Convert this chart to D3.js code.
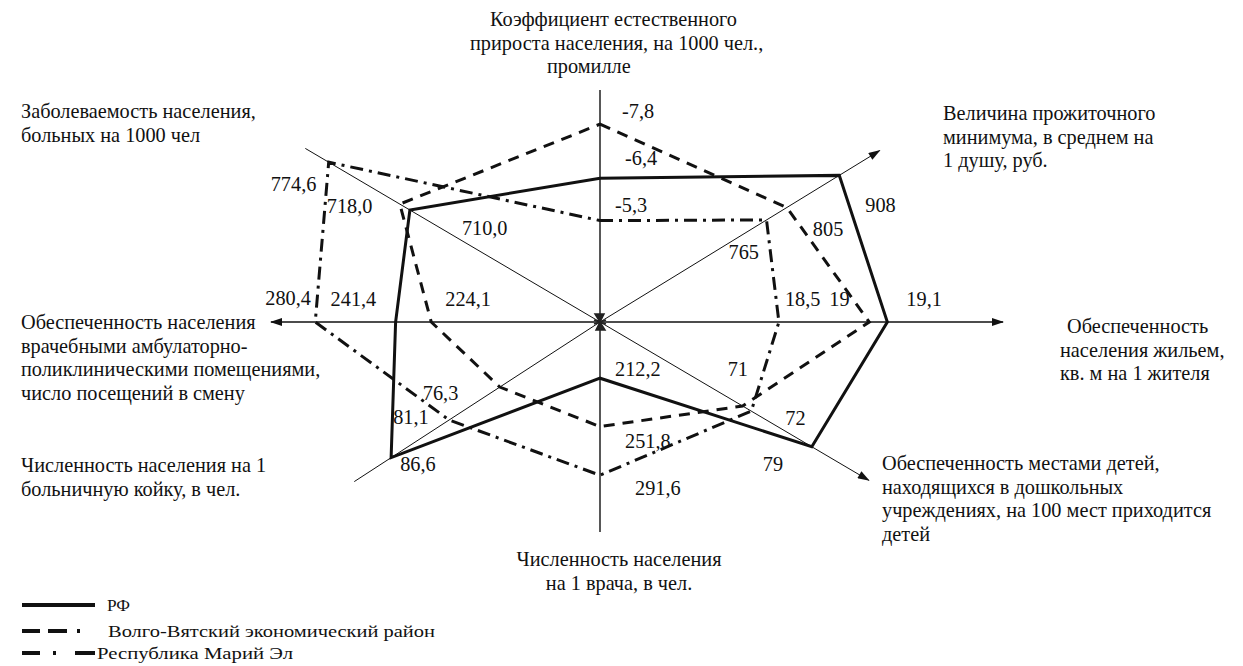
<!DOCTYPE html>
<html>
<head>
<meta charset="utf-8">
<script src="https://cdnjs.cloudflare.com/ajax/libs/d3/7.8.5/d3.min.js"></script>
<style>
  body { margin: 0; background: #fff; }
</style>
</head>
<body>
<script>
// axis titles, clockwise from the top
const axisTitles = [
  ["Коэффициент естественного", "прироста населения, на 1000 чел.,", "промилле"],
  ["Величина прожиточного", "минимума, в среднем на", "1 душу, руб."],
  ["Обеспеченность", "населения жильем,", "кв. м на 1 жителя"],
  ["Обеспеченность местами детей,", "находящихся в дошкольных", "учреждениях, на 100 мест приходится", "детей"],
  ["Численность населения", "на 1 врача, в чел."],
  ["Численность населения на 1", "больничную койку, в чел."],
  ["Обеспеченность населения", "врачебными амбулаторно-", "поликлиническими помещениями,", "число посещений в смену"],
  ["Заболеваемость населения,", "больных на 1000 чел"]
];
const seriesNames = ["РФ", "Волго-Вятский экономический район", "Республика Марий Эл"];
const valuesRF = [-6.4, 908, 19.1, 79, 212.2, 86.6, 241.4, 710.0];
const valuesVV = [-7.8, 805, 19, 71, 251.8, 76.3, 224.1, 718.0];
const valuesME = [-5.3, 765, 18.5, 72, 291.6, 81.1, 280.4, 774.6];
// every axis has its own scale: value at the centre .. value at radius R
const axisMin = [-2.67, 437.7, 17.51, 54.5, 166.2, 66.8, 142.2, 558.7];
const axisMax = [-10.45, 940.5, 19.17, 84.4, 411.7, 90.65, 287.8, 764.4];
const labelFormats = [".1f", "d", ".1~f", "d", ".1f", ".1f", ".1f", ".1f"];

const width = 1243, height = 666,
  cx = 600, cy = 322, R = 300;

// layout of the hand-drawn axes (degrees, counter-clockwise from east)
const angles = [90, 31.5, 0, -30.5, -90, 213, 180, 149.5];
const axisLen = [232, 328, 403, 312, 210, 293, 329, 342];
const arrowed = [false, true, true, true, false, false, true, false];
const axisWidth = [1.4, 1, 1.4, 1, 1.4, 1, 1.4, 1];
const titlePos = [
  {x: [490, 470, 547], y: 26, anchor: "start"},
  {x: [943], y: 120, anchor: "start"},
  {x: [1067, 1060, 1060], y: 333, anchor: "start"},
  {x: [882], y: 470, anchor: "start"},
  {x: [619], y: 566, anchor: "middle"},
  {x: [21], y: 472, anchor: "start"},
  {x: [21], y: 329, anchor: "start"},
  {x: [21], y: 118, anchor: "start"}
];
const lineHeight = 23.5;
const fontSize = 20.3;
const fontFamily = "'Liberation Serif', 'Times New Roman', serif";

const series = [
  {name: seriesNames[0], values: valuesRF, dash: null},
  {name: seriesNames[1], values: valuesVV, dash: "11,8"},
  {name: seriesNames[2], values: valuesME, dash: "13,6,3,6"}
];
// where the value labels sit relative to their vertex
const labelOffsets = [
  [[25, -13], [26, 37], [19, -16], [-49, 24], [15, -2], [9, 13], [-65, -16], [52, 25]],
  [[22, -6], [26, 28], [-40, -16], [-15, -30], [25, 21], [-77, 13], [14, -16], [-73, 9]],
  [[15, -9], [-38, 39], [6, -16], [34, 14], [35, 20], [-56, 4], [-50, -17], [-58, 29]]
];

const ru = d3.formatLocale({decimal: ",", thousands: "\u00a0", grouping: [3], currency: ["", ""], minus: "-"});
const formats = labelFormats.map(f => ru.format(f));

const theta = angles.map(a => (90 - a) * Math.PI / 180);
const scales = axisMin.map((m, i) => d3.scaleLinear().domain([m, axisMax[i]]).range([0, R]));

const svg = d3.select("body")
  .append("svg")
  .attr("width", width)
  .attr("height", height)
  .style("font-family", fontFamily);

svg.append("rect").attr("width", width).attr("height", height).attr("fill", "#fff");

svg.append("defs")
  .append("marker")
  .attr("id", "arrow")
  .attr("viewBox", "0 0 12 8")
  .attr("refX", 11)
  .attr("refY", 4)
  .attr("markerUnits", "userSpaceOnUse")
  .attr("markerWidth", 13)
  .attr("markerHeight", 8)
  .attr("orient", "auto")
  .append("path")
  .attr("d", "M0,0 L12,4 L0,8 Z")
  .attr("fill", "#111");

const chart = svg.append("g").attr("transform", `translate(${cx},${cy})`);

//Axes
chart.selectAll(".axis")
  .data(theta)
  .enter()
  .append("line")
  .attr("class", "axis")
  .attr("x1", 0)
  .attr("y1", 0)
  .attr("x2", (t, i) => d3.pointRadial(t, axisLen[i])[0])
  .attr("y2", (t, i) => d3.pointRadial(t, axisLen[i])[1])
  .attr("stroke", "#111")
  .attr("stroke-width", (t, i) => axisWidth[i])
  .attr("marker-end", (t, i) => arrowed[i] ? "url(#arrow)" : null);

// the little knot where the axes meet
chart.append("path")
  .attr("d", "M-5,-8 L4,-8 L-4,8 L5,8 Z M-6,-2 L6,2 M-6,2 L6,-2")
  .attr("fill", "#222")
  .attr("stroke", "#222")
  .attr("stroke-width", 1.5);

//Polygons
const radial = d3.lineRadial()
  .angle((d, i) => theta[i])
  .radius((d, i) => scales[i](d))
  .curve(d3.curveLinearClosed);

chart.selectAll(".series")
  .data(series)
  .enter()
  .append("path")
  .attr("class", "series")
  .attr("d", s => radial(s.values))
  .attr("fill", "none")
  .attr("stroke", "#111")
  .attr("stroke-width", 3)
  .attr("stroke-dasharray", s => s.dash);

//Value labels
series.forEach((s, k) => {
  chart.append("g")
    .selectAll("text")
    .data(s.values)
    .enter()
    .append("text")
    .attr("x", (v, i) => d3.pointRadial(theta[i], scales[i](v))[0] + labelOffsets[k][i][0])
    .attr("y", (v, i) => d3.pointRadial(theta[i], scales[i](v))[1] + labelOffsets[k][i][1])
    .attr("font-size", fontSize)
    .attr("fill", "#111")
    .text((v, i) => formats[i](v));
});

//Axis titles
const titles = svg.append("g")
  .selectAll("text")
  .data(axisTitles)
  .enter()
  .append("text")
  .attr("font-size", fontSize)
  .attr("fill", "#111")
  .attr("text-anchor", (d, i) => titlePos[i].anchor);

titles.selectAll("tspan")
  .data((d, i) => d.map((line, j) => ({line, j, p: titlePos[i]})))
  .enter()
  .append("tspan")
  .attr("x", d => d.p.x[Math.min(d.j, d.p.x.length - 1)])
  .attr("y", d => d.p.y + d.j * lineHeight)
  .text(d => d.line);

//Legend
const legendRows = [605, 631, 653];
const legendDash = [null, "18,8,19,10,3,100", "18,13,3,19,20,100"];
const legendTextX = [107, 108, 97];
const legendTextLen = [23, 327, 196];

const gLegend = svg.append("g").attr("id", "legend");
const gItem = gLegend.selectAll("g")
  .data(series)
  .enter()
  .append("g")
  .attr("transform", (d, i) => `translate(0,${legendRows[i]})`);
gItem.append("line")
  .attr("x1", 22)
  .attr("x2", (d, i) => i == 1 ? 80 : 95)
  .attr("stroke", "#111")
  .attr("stroke-width", 4)
  .attr("stroke-dasharray", (d, i) => legendDash[i]);
gItem.append("text")
  .attr("x", (d, i) => legendTextX[i])
  .attr("y", 6)
  .attr("font-size", 16)
  .attr("fill", "#111")
  .attr("textLength", (d, i) => legendTextLen[i])
  .attr("lengthAdjust", "spacingAndGlyphs")
  .text(d => d.name);
</script>
</body>
</html>
